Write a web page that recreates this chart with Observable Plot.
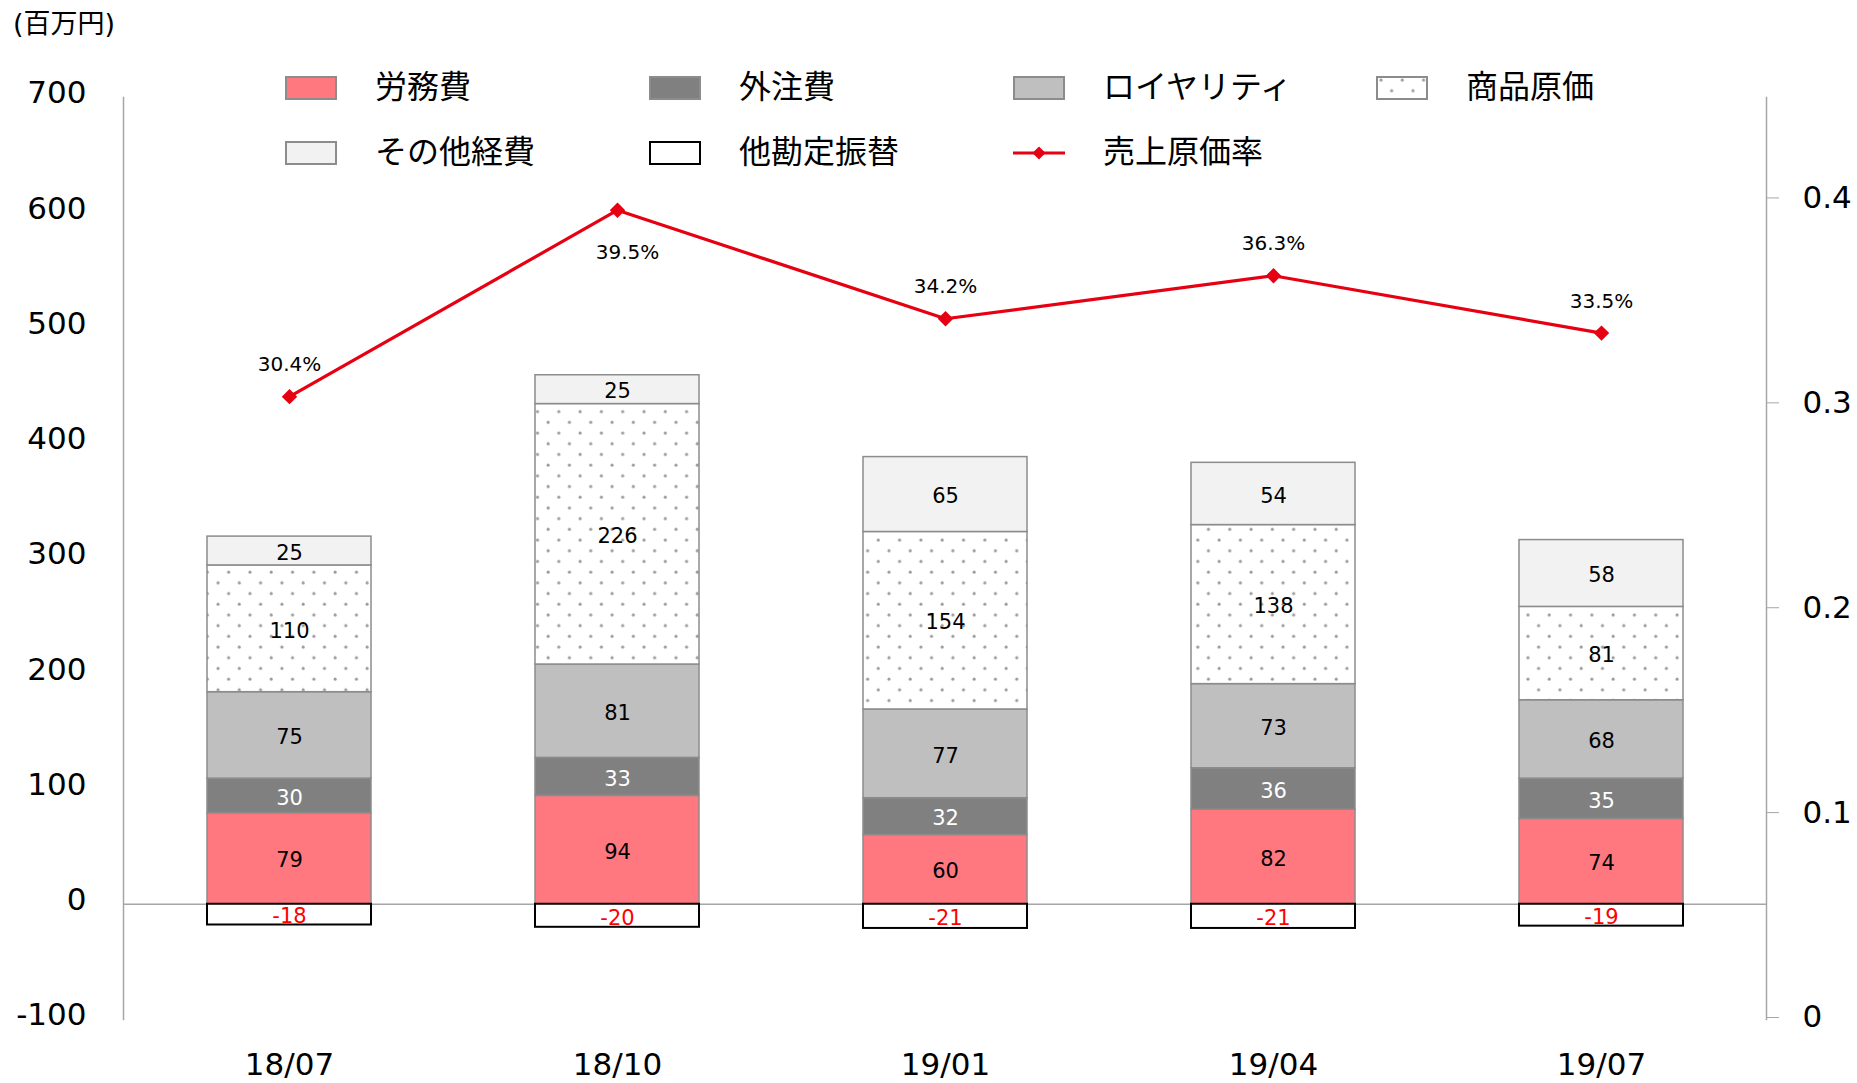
<!DOCTYPE html>
<html><head><meta charset="utf-8">
<script src="https://cdn.jsdelivr.net/npm/d3@7"></script>
<script src="https://cdn.jsdelivr.net/npm/@observablehq/plot@0.6"></script>
<style>
body{margin:0;background:#fff;font-family:"DejaVu Sans","Noto Sans CJK JP",sans-serif;color:#000;}
#wrap{position:relative;width:1857px;height:1083px;overflow:hidden;}
#wrap svg.chart{position:absolute;left:0;top:0;}
#unit{position:absolute;left:13px;top:8px;font-size:27px;line-height:32px;}
#legend{position:absolute;left:285px;top:51px;display:grid;grid-template-columns:364px 364px 363px 363px;grid-auto-rows:65px;}
.item{display:flex;align-items:center;font-size:32px;font-family:"Noto Sans CJK JP",sans-serif;}
.item svg{margin-right:38px;margin-top:9px;flex:none;}
</style></head><body>
<svg width="0" height="0" style="position:absolute">
 <defs><pattern id="dots" width="21.3" height="21.4" patternUnits="userSpaceOnUse">
  <rect width="21.3" height="21.4" fill="#fff"/>
  <circle cx="5" cy="5" r="1.5" fill="#9a9a9a"/>
  <circle cx="15.65" cy="15.7" r="1.5" fill="#9a9a9a"/>
 </pattern></defs></svg>
<div id="wrap"><div id="unit">(百万円)</div><div id="legend"></div></div>
<script>
const periods = ["18/07","18/10","19/01","19/04","19/07"];
const series = ["労務費","外注費","ロイヤリティ","商品原価","その他経費"];
const seriesColors = ["#FF7880","#808080","#BFBFBF","url(#dots)","#F2F2F2"];
const laborCost = [79,94,60,82,74];
const outsourcing = [30,33,32,36,35];
const royalty = [75,81,77,73,68];
const merchandise = [110,226,154,138,81];
const otherExpenses = [25,25,65,54,58];
const transferName = "他勘定振替";
const transfers = [-18,-20,-21,-21,-19];
const ratioName = "売上原価率";
const costRatio = [0.304,0.395,0.342,0.363,0.335];
const leftTicks = [-100,0,100,200,300,400,500,600,700];
const rightTicks = [0,0.1,0.2,0.3,0.4];
const leftDomain = [-100,700];
const rightDomain = [0,0.45];

const RED = "#E60012";
const AXIS = "#A6A6A6";
const seriesValues = [laborCost, outsourcing, royalty, merchandise, otherExpenses];

const costRows = [];
series.forEach((s, si) => periods.forEach((p, pi) => costRows.push({period: p, series: s, value: seriesValues[si][pi]})));
const transferRows = periods.map((p, i) => ({period: p, value: transfers[i]}));
const ratioRows = periods.map((p, i) => ({period: p, ratio: costRatio[i]}));

const toLeft = r => leftDomain[0] + (r - rightDomain[0]) / (rightDomain[1] - rightDomain[0]) * (leftDomain[1] - leftDomain[0]);
const toRatio = v => rightDomain[0] + (v - leftDomain[0]) / (leftDomain[1] - leftDomain[0]) * (rightDomain[1] - rightDomain[0]);
const maxRatio = d3.max(costRatio);
const pct = d => (d.ratio * 100).toFixed(1) + "%";

const chart = Plot.plot({
  width: 1857, height: 1083,
  marginTop: 97, marginBottom: 64, marginLeft: 123, marginRight: 91,
  style: {fontFamily: '"DejaVu Sans","Noto Sans CJK JP",sans-serif', background: "transparent", color: "#000"},
  x: {domain: periods, paddingInner: 0.5, paddingOuter: 0.25, label: null},
  y: {domain: leftDomain, label: null},
  color: {domain: series, range: seriesColors},
  marks: [
    Plot.frame({anchor: "left", stroke: AXIS, strokeWidth: 1.5}),
    Plot.frame({anchor: "right", stroke: AXIS, strokeWidth: 1.5}),
    Plot.ruleY([0], {stroke: AXIS, strokeWidth: 1.5}),
    Plot.barY(costRows, Plot.stackY({x: "period", y: "value", z: "series", order: series, fill: "series", stroke: "#8C8C8C", strokeWidth: 1.5})),
    Plot.barY(transferRows, {x: "period", y: "value", fill: "#fff", stroke: "#000", strokeWidth: 2}),
    Plot.text(costRows, Plot.stackY({x: "period", y: "value", z: "series", order: series, text: d => d.series === "外注費" ? "" : String(d.value), fill: "#000", fontSize: 21, dy: 2})),
    Plot.text(costRows, Plot.stackY({x: "period", y: "value", z: "series", order: series, text: d => d.series === "外注費" ? String(d.value) : "", fill: "#fff", fontSize: 21, dy: 2})),
    Plot.text(transferRows, {x: "period", y: d => d.value / 2, text: d => String(d.value), fill: "#FF0000", fontSize: 21, dy: 2}),
    Plot.line(ratioRows, {x: "period", y: d => toLeft(d.ratio), stroke: RED, strokeWidth: 3.2}),
    Plot.dot(ratioRows, {x: "period", y: d => toLeft(d.ratio), symbol: "diamond2", fill: RED, stroke: RED, r: 6}),
    Plot.text(ratioRows, {x: "period", y: d => toLeft(d.ratio), text: d => d.ratio === maxRatio ? "" : pct(d), dy: -32, fontSize: 20}),
    Plot.text(ratioRows, {x: "period", y: d => toLeft(d.ratio), text: d => d.ratio === maxRatio ? pct(d) : "", dy: 42, dx: 10, fontSize: 20}),
    Plot.axisY(leftTicks, {anchor: "left", tickSize: 0, tickPadding: 37, fontSize: 31, dy: -4, tickFormat: d => String(d)}),
    Plot.axisY(rightTicks.map(toLeft), {anchor: "right", tickSize: 12, tickPadding: 24, fontSize: 31, dy: -2, stroke: AXIS, tickFormat: d => String(Math.round(toRatio(d) * 100) / 100)}),
    Plot.axisX({tickSize: 0, tickPadding: 33, fontSize: 31})
  ]
});
chart.classList.add("chart");
document.getElementById("wrap").prepend(chart);

// legend
const legendItems = [
  {name: series[0], kind: "rect", fill: seriesColors[0], stroke: "#8C8C8C"},
  {name: series[1], kind: "rect", fill: seriesColors[1], stroke: "#8C8C8C"},
  {name: series[2], kind: "rect", fill: seriesColors[2], stroke: "#8C8C8C"},
  {name: series[3], kind: "rect", fill: seriesColors[3], stroke: "#8C8C8C"},
  {name: series[4], kind: "rect", fill: seriesColors[4], stroke: "#8C8C8C"},
  {name: transferName, kind: "rect", fill: "#fff", stroke: "#000"},
  {name: ratioName, kind: "line"}
];
const legend = d3.select("#legend");
legendItems.forEach(it => {
  const div = legend.append("div").attr("class", "item");
  const sw = div.append("svg").attr("width", 52).attr("height", 26);
  if (it.kind === "rect") {
    sw.append("rect").attr("x", 1).attr("y", 2).attr("width", 50).attr("height", 22)
      .attr("fill", it.fill).attr("stroke", it.stroke).attr("stroke-width", 2);
  } else {
    sw.append("line").attr("x1", 0).attr("x2", 52).attr("y1", 13).attr("y2", 13).attr("stroke", RED).attr("stroke-width", 3.2);
    sw.append("path").attr("d", d3.symbol(d3.symbolDiamond2, 110)()).attr("transform", "translate(26,13)").attr("fill", RED);
  }
  div.append("span").text(it.name);
});
</script>
</body></html>
